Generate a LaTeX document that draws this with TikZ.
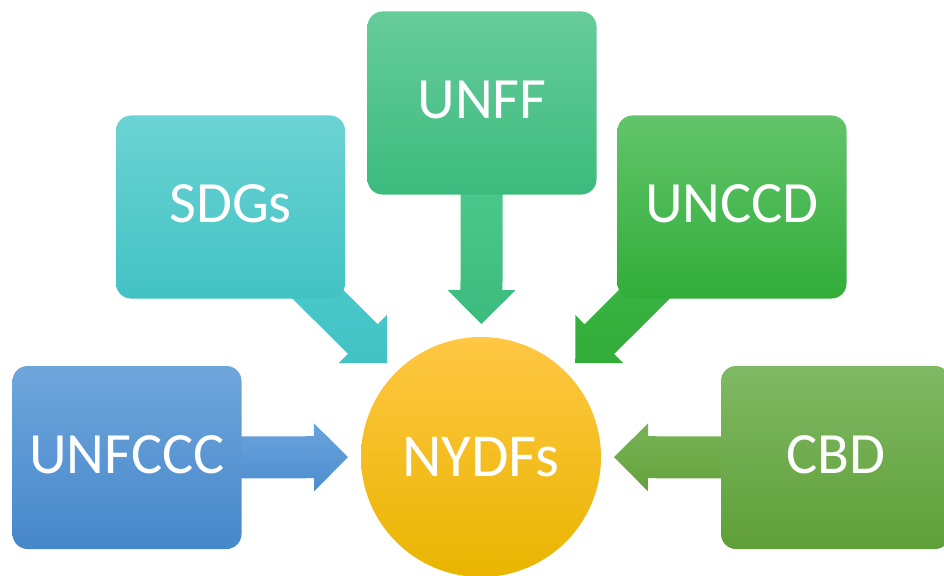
\documentclass[tikz,border=0pt]{standalone}
\usepackage{fontspec}
\setmainfont{Carlito}
\usetikzlibrary{calc}
\pgfdeclarelayer{bg}
\pgfsetlayers{bg,main}
\definecolor{bluetop}{HTML}{6FA6DC}
\definecolor{bluebot}{HTML}{4687CA}
\definecolor{bluearrtop}{HTML}{69A3DD}
\definecolor{bluearrbot}{HTML}{4E8ECF}
\definecolor{cbdtop}{HTML}{80B964}
\definecolor{cbdbot}{HTML}{5F9F38}
\definecolor{cbdarrtop}{HTML}{78B455}
\definecolor{cbdarrbot}{HTML}{64A23D}
\definecolor{unfftop}{HTML}{66CC9A}
\definecolor{unffbot}{HTML}{3CBB7E}
\definecolor{unffarrtop}{HTML}{55CF94}
\definecolor{unffarrbot}{HTML}{3CBB7E}
\definecolor{sdgtop}{HTML}{6CD3D3}
\definecolor{sdgbot}{HTML}{42C2C4}
\definecolor{sdgarrtop}{HTML}{4FD0D0}
\definecolor{sdgarrbot}{HTML}{42C2C4}
\definecolor{ccdtop}{HTML}{63C46B}
\definecolor{ccdbot}{HTML}{31AD39}
\definecolor{ccdarrtop}{HTML}{40B948}
\definecolor{ccdarrbot}{HTML}{32AD3A}
\definecolor{suntop}{HTML}{FFC744}
\definecolor{sunmid}{HTML}{FFC80A}
\definecolor{sunbot}{HTML}{E9B500}
\newcommand\blockarr[4]{%
  \coordinate (#2) at ($(c)!133pt!(#1.center)$);
  \coordinate (#2b) at ($(#2)!34pt!(#1.center)$);
  \path[top color=#3,bottom color=#4]
    ($(#1.center)!21pt!90:(#2)$) -- ($(#2b)!21pt!90:(#2)$) --
    ($(#2b)!34pt!90:(#2)$) -- (#2) -- ($(#2b)!34pt!-90:(#2)$) --
    ($(#2b)!21pt!-90:(#2)$) -- ($(#1.center)!21pt!-90:(#2)$) -- cycle;
}
\tikzset{
  box/.style={rectangle, rounded corners=15pt, minimum width=229pt,
    minimum height=183pt, inner sep=0pt, text=white, text depth=6pt,
    font=\fontsize{58.5}{62}\selectfont},
  hub/.style={circle, minimum size=240pt, inner sep=0pt, text=white,
    top color=suntop, middle color=sunmid, bottom color=sunbot,
    font=\fontsize{61}{66}\selectfont}
}
\begin{document}
\begin{tikzpicture}[x=1pt,y=-1pt]
\clip (0,0) rectangle (944,575);
\node[hub] (c) at (481,457) {NYDFs};
\node[box, top color=bluetop, bottom color=bluebot] (unfccc) at (127,457.5) {UNFCCC};
\node[box, top color=cbdtop, bottom color=cbdbot] (cbd) at (835.5,457.5) {CBD};
\node[box, top color=unfftop, bottom color=unffbot] (unff) at (482,103) {UNFF};
\node[box, top color=sdgtop, bottom color=sdgbot] (sdgs) at (230.5,207) {SDGs};
\node[box, top color=ccdtop, bottom color=ccdbot] (unccd) at (732,207) {UNCCD};
\begin{pgfonlayer}{bg}
\blockarr{unfccc}{t1}{bluearrtop}{bluearrbot}
\blockarr{cbd}{t2}{cbdarrtop}{cbdarrbot}
\blockarr{unff}{t3}{unffarrtop}{unffarrbot}
\blockarr{sdgs}{t4}{sdgarrtop}{sdgarrbot}
\blockarr{unccd}{t5}{ccdarrtop}{ccdarrbot}
\end{pgfonlayer}
\end{tikzpicture}
\end{document}
